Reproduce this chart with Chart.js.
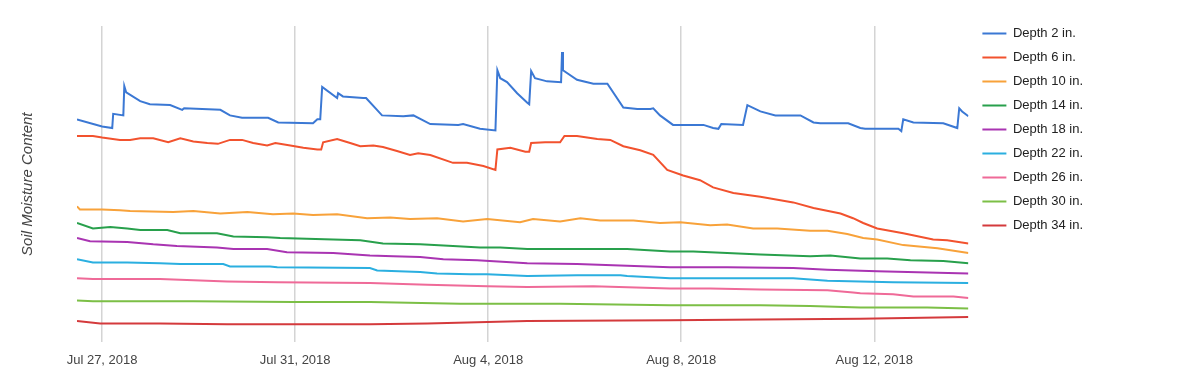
<!DOCTYPE html>
<html>
<head>
<meta charset="utf-8">
<script src="https://cdn.jsdelivr.net/npm/chart.js@4"></script>
<style>
  html, body { margin: 0; padding: 0; background: #fff; }
  #wrap { width: 1200px; height: 391px; }
</style>
</head>
<body>
<div id="wrap"><canvas id="chart" width="1200" height="391"></canvas></div>
<script>
// x = days since Jul 27, 2018 00:00, y = soil moisture reading
const tickDays = [0, 4, 8, 12, 16];
const tickLabels = ['Jul 27, 2018', 'Jul 31, 2018', 'Aug 4, 2018', 'Aug 8, 2018', 'Aug 12, 2018'];

const seriesNames = ['Depth 2 in.', 'Depth 6 in.', 'Depth 10 in.', 'Depth 14 in.', 'Depth 18 in.',
  'Depth 22 in.', 'Depth 26 in.', 'Depth 30 in.', 'Depth 34 in.'];
const seriesColors = ['#3b78d4', '#f2522e', '#f8a23a', '#28a04c', '#a934b2',
  '#2bafe0', '#ef6a98', '#7cbf46', '#d43a3c'];

const depth2 = [[-0.52, 28.2], [0, 27.3], [0.21, 27.1], [0.23, 28.9], [0.44, 28.7], [0.46, 32.4],
  [0.5, 31.6], [0.79, 30.5], [0.99, 30.1], [1.41, 30.0], [1.66, 29.4], [1.7, 29.6], [2.45, 29.4],
  [2.65, 28.7], [2.9, 28.4], [3.44, 28.4], [3.65, 27.8], [4.37, 27.7], [4.46, 28.2], [4.52, 28.2],
  [4.56, 32.3], [4.87, 30.9], [4.89, 31.5], [4.99, 31.1], [5.41, 30.9], [5.47, 30.9], [5.8, 28.7],
  [6.24, 28.6], [6.45, 28.7], [6.8, 27.6], [7.38, 27.5], [7.48, 27.6], [7.83, 27.0], [8.15, 26.8],
  [8.19, 34.4], [8.25, 33.4], [8.39, 32.9], [8.6, 31.5], [8.81, 30.3], [8.85, 30.1], [8.89, 34.3],
  [8.97, 33.4], [9.22, 33.0], [9.51, 32.9], [9.53, 36.7], [9.55, 34.4], [9.84, 33.2], [10.18, 32.7],
  [10.47, 32.7], [10.8, 29.7], [11.09, 29.5], [11.36, 29.5], [11.42, 29.6], [11.56, 28.7],
  [11.83, 27.5], [12.46, 27.5], [12.66, 27.1], [12.77, 27.0], [12.83, 27.6], [13.28, 27.5],
  [13.37, 30.0], [13.64, 29.2], [13.95, 28.7], [14.47, 28.7], [14.74, 27.8], [14.88, 27.7],
  [15.46, 27.7], [15.71, 27.1], [15.81, 27.0], [16.5, 27.0], [16.56, 26.7], [16.6, 28.2],
  [16.81, 27.8], [17.43, 27.7], [17.72, 27.1], [17.76, 29.6], [17.82, 29.2], [17.95, 28.6]];

const depth6 = [[-0.52, 26.1], [-0.19, 26.1], [0, 25.9], [0.37, 25.6], [0.58, 25.6], [0.79, 25.8],
  [1.06, 25.8], [1.37, 25.3], [1.62, 25.8], [1.89, 25.4], [2.18, 25.2], [2.4, 25.1], [2.65, 25.6],
  [2.9, 25.6], [3.13, 25.2], [3.42, 24.9], [3.59, 25.2], [3.9, 24.9], [4.17, 24.6], [4.46, 24.4],
  [4.54, 24.4], [4.58, 25.3], [4.87, 25.7], [5.14, 25.2], [5.35, 24.8], [5.62, 24.9], [5.82, 24.7],
  [6.11, 24.2], [6.38, 23.7], [6.55, 23.9], [6.8, 23.7], [7.27, 22.7], [7.56, 22.7], [7.9, 22.3],
  [8.15, 21.8], [8.19, 24.4], [8.46, 24.6], [8.77, 24.1], [8.85, 24.1], [8.89, 25.2], [9.18, 25.3],
  [9.49, 25.3], [9.58, 26.1], [9.84, 26.1], [10.26, 25.7], [10.53, 25.6], [10.8, 24.8],
  [11.15, 24.3], [11.42, 23.7], [11.71, 21.8], [12.04, 21.1], [12.39, 20.5], [12.66, 19.6],
  [13.08, 18.9], [13.64, 18.4], [14.32, 17.7], [14.74, 17.0], [15.3, 16.3], [15.56, 15.7],
  [15.77, 15.1], [16.06, 14.4], [16.6, 13.8], [17.22, 13.0], [17.51, 12.9], [17.95, 12.5]];

const depth10 = [[-0.52, 17.2], [-0.46, 16.8], [0, 16.8], [0.37, 16.7], [0.58, 16.6], [1.47, 16.5],
  [1.89, 16.6], [2.45, 16.3], [3.01, 16.5], [3.54, 16.2], [3.96, 16.3], [4.37, 16.1], [4.87, 16.2],
  [5.49, 15.7], [5.97, 15.8], [6.38, 15.6], [6.94, 15.7], [7.48, 15.3], [7.98, 15.6], [8.66, 15.2],
  [8.93, 15.6], [9.49, 15.3], [9.91, 15.7], [10.32, 15.4], [11.01, 15.4], [11.56, 15.1],
  [11.98, 15.2], [12.6, 14.8], [12.95, 14.9], [13.49, 14.4], [13.99, 14.4], [14.67, 14.1],
  [15.03, 14.1], [15.44, 13.7], [15.77, 13.2], [16.06, 13.0], [16.6, 12.3], [17.31, 11.9],
  [17.95, 11.3]];

const depth14 = [[-0.52, 15.1], [-0.19, 14.4], [0.17, 14.6], [0.52, 14.4], [0.79, 14.2], [1.35, 14.2],
  [1.62, 13.8], [2.38, 13.8], [2.72, 13.4], [3.42, 13.3], [3.69, 13.2], [4.79, 13.0], [5.35, 12.9],
  [5.82, 12.5], [6.59, 12.4], [7.27, 12.2], [7.83, 12.0], [8.25, 12.0], [8.81, 11.8], [9.84, 11.8],
  [10.88, 11.8], [11.77, 11.5], [12.25, 11.5], [12.95, 11.3], [13.64, 11.1], [14.67, 10.9],
  [15.09, 11.0], [15.71, 10.6], [16.27, 10.6], [16.75, 10.4], [17.43, 10.3], [17.95, 10.0]];

const depth18 = [[-0.52, 13.2], [-0.25, 12.8], [0.52, 12.7], [1.06, 12.4], [1.55, 12.2], [2.38, 12.0],
  [2.72, 11.8], [3.42, 11.8], [3.83, 11.4], [4.79, 11.3], [5.55, 11.0], [6.03, 10.9], [6.59, 10.8],
  [7.07, 10.5], [7.77, 10.4], [8.81, 10.0], [9.84, 9.9], [10.88, 9.7], [11.77, 9.5], [12.95, 9.5],
  [14.32, 9.4], [15.03, 9.2], [16.06, 9.0], [17.95, 8.7]];

const depth22 = [[-0.52, 10.5], [-0.19, 10.1], [0.52, 10.1], [1.2, 10.0], [1.62, 9.9], [2.51, 9.9],
  [2.65, 9.6], [3.48, 9.6], [3.63, 9.5], [5.55, 9.4], [5.7, 9.1], [6.59, 8.9], [6.94, 8.7],
  [7.63, 8.6], [7.98, 8.6], [8.81, 8.4], [9.84, 8.5], [10.74, 8.5], [10.88, 8.4], [11.77, 8.1],
  [12.95, 8.1], [14.32, 8.1], [15.03, 7.8], [15.71, 7.7], [16.39, 7.6], [17.95, 7.5]];

const depth26 = [[-0.52, 8.1], [-0.19, 8.0], [1.2, 8.0], [2.59, 7.7], [3.63, 7.6], [5.55, 7.5],
  [6.74, 7.3], [7.98, 7.1], [8.81, 7.0], [10.18, 7.1], [11.77, 6.8], [12.6, 6.8], [13.64, 6.7],
  [15.03, 6.6], [15.56, 6.3], [15.71, 6.2], [16.39, 6.1], [16.81, 5.8], [17.64, 5.8], [17.95, 5.6]];

const depth30 = [[-0.52, 5.3], [-0.19, 5.2], [1.89, 5.2], [3.96, 5.1], [5.55, 5.1], [7.42, 4.9],
  [9.49, 4.9], [11.77, 4.7], [13.64, 4.7], [14.67, 4.6], [15.71, 4.4], [17.1, 4.4], [17.95, 4.3]];

const depth34 = [[-0.52, 2.7], [-0.04, 2.4], [1.2, 2.4], [2.59, 2.3], [5.55, 2.3], [6.74, 2.4],
  [8.81, 2.7], [11.77, 2.8], [13.64, 2.9], [15.71, 3.0], [17.95, 3.2]];

const allSeries = [depth2, depth6, depth10, depth14, depth18, depth22, depth26, depth30, depth34];

const font = "Arial, 'Liberation Sans', sans-serif";

// the legend sits a little higher and further right than Chart.js puts it
const legendNudge = {
  id: 'legendNudge',
  afterLayout(chart) {
    const lg = chart.legend;
    lg.left += 3; lg.right += 3;
    lg.top -= 10; lg.bottom -= 10;
  }
};

new Chart(document.getElementById('chart'), {
  type: 'line',
  data: {
    datasets: allSeries.map((pts, i) => ({
      label: seriesNames[i],
      data: pts.map(([x, y]) => ({ x, y })),
      borderColor: seriesColors[i],
      backgroundColor: seriesColors[i],
      borderWidth: 2,
      pointRadius: 0,
      tension: 0,
      fill: false
    }))
  },
  plugins: [legendNudge],
  options: {
    responsive: false,
    animation: false,
    layout: { padding: { top: 26, left: 10, right: 110, bottom: 13 } },
    plugins: {
      tooltip: { enabled: false },
      legend: {
        position: 'right',
        align: 'start',
        labels: {
          usePointStyle: true,
          pointStyle: 'line',
          pointStyleWidth: 24,
          padding: 11,
          color: '#222',
          font: { family: font, size: 13 }
        }
      }
    },
    scales: {
      x: {
        type: 'linear',
        min: -0.52,
        max: 17.95,
        afterBuildTicks: (axis) => { axis.ticks = tickDays.map(v => ({ value: v })); },
        ticks: {
          autoSkip: false,
          maxRotation: 0,
          padding: 10,
          color: '#444',
          font: { family: font, size: 13 },
          callback: (v) => tickLabels[tickDays.indexOf(v)]
        },
        grid: { color: '#d4d4d4', lineWidth: 1.5, drawTicks: false },
        border: { display: false }
      },
      y: {
        min: 0,
        max: 40,
        ticks: { display: false },
        grid: { display: false, drawTicks: false },
        border: { display: false },
        title: {
          display: true,
          text: 'Soil Moisture Content',
          color: '#444',
          font: { family: font, size: 15, style: 'italic' },
          padding: { top: 9, bottom: 40 }
        }
      }
    }
  }
});
</script>
</body>
</html>
